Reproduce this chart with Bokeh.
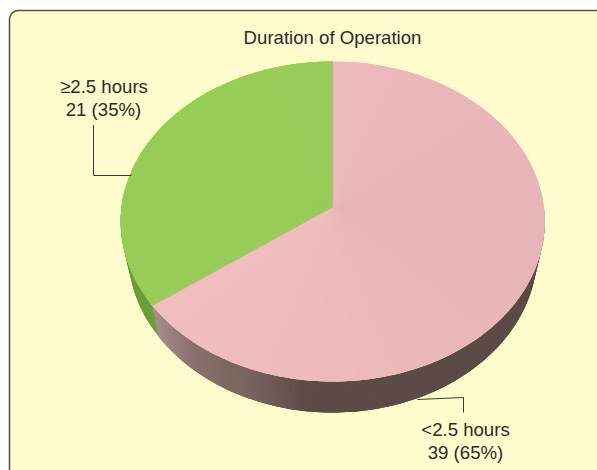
import numpy as np
from bokeh.plotting import figure
from bokeh.models import Range1d, Label
from bokeh.embed import file_html
from bokeh.resources import INLINE

categories = ["<2.5 hours", "\u22652.5 hours"]
counts = [39, 21]
percents = ["65%", "35%"]
title_text = "Duration of Operation"

# view geometry (picture pixels)
W, H = 597, 470
CX, CY, RX, RY = 332.2, 221.0, 212.0, 160.0
APEX = 14.0 / 160.0      # perspective shift of the pie centre
DEPTH = 31.0 / 160.0
SHRINK = 205.0 / 212.5
BG = "#fffbcc"
INK = "#2b2b2b"
EDGE = "#575351"


def dx(px):
    return (np.asarray(px, float) - CX) / RX


def dy(py):
    return (CY - np.asarray(py, float)) / RY


def project(theta):
    """Pie angle (clockwise from top) to a point on the tilted disc."""
    sx, cy = np.sin(theta), np.cos(theta)
    den = 1 + APEX * cy
    return sx * np.sqrt(1 - APEX ** 2) / den, (cy + APEX) / den


def mix(stops, t):
    xs = [s[0] for s in stops]
    rgb = [np.interp(t, xs, [s[1][i] for s in stops]) for i in range(3)]
    return "#%02x%02x%02x" % tuple(int(round(c)) for c in rgb)


p = figure(width=W, height=H, output_backend="svg", toolbar_location=None,
           x_range=Range1d(float(dx(0)), float(dx(W))),
           y_range=Range1d(float(dy(H)), float(dy(0))),
           min_border=0, outline_line_color=None, background_fill_color=BG,
           border_fill_color=BG, x_axis_type=None, y_axis_type=None)
p.grid.visible = False

# white page corner and frame
r = 9
arc = np.linspace(np.pi, np.pi / 2, 12)
fx = np.r_[9.0, 9 + r + r * np.cos(arc), float(W)]
fy = np.r_[float(H), 10 + r - r * np.sin(arc), 10.0]
p.patch(np.r_[dx(fx), dx(W), dx(0), dx(0)], np.r_[dy(fy), dy(0), dy(0), dy(H)],
        fill_color="#ffffff", line_color=None)
p.line(dx(fx), dy(fy), line_color=EDGE, line_width=1.6)

total = sum(counts)
sweep_pink = 2 * np.pi * counts[0] / total

SIDE_PINK = [(152, (168, 140, 140)), (190, (140, 112, 112)), (225, (124, 104, 96)),
             (250, (120, 98, 96)), (305, (93, 75, 71)), (560, (92, 74, 70))]
SIDE_GREEN = [(120, (104, 156, 58)), (160, (106, 160, 60))]
TOP_PINK = [(150, (240, 190, 190)), (340, (236, 186, 186)), (545, (231, 181, 183))]
TOP_GREEN = [(120, (152, 204, 88)), (330, (153, 204, 90))]


def wall(t0, t1, n, stops):
    edges = np.linspace(t0, t1, n + 1)
    for i in range(n):
        th = edges[i:min(i + 4, n + 1)]
        xa, ya = project(th)
        xs = np.r_[xa, xa[::-1] * SHRINK]
        ys = np.r_[ya, ya[::-1] - DEPTH]
        mid = project(np.array([(edges[i] + edges[i + 1]) / 2]))[0][0]
        c = mix(stops, CX + RX * mid)
        p.patch(xs, ys, fill_color=c, line_color=None)


def top(t0, t1, n, stops):
    edges = np.linspace(t0, t1, n + 1)
    for i in range(n):
        th = np.linspace(edges[i], edges[min(i + 3, n)], 10)
        xa, ya = project(th)
        xs = np.r_[0.0, xa]
        ys = np.r_[APEX, ya]
        mid = project(np.array([(edges[i] + edges[i + 1]) / 2]))[0][0]
        c = mix(stops, CX + RX * mid)
        p.patch(xs, ys, fill_color=c, line_color=None)


wall(np.pi / 2, sweep_pink, 110, SIDE_PINK)
wall(sweep_pink, 1.5 * np.pi + 0.1, 24, SIDE_GREEN)
top(0, sweep_pink, 70, TOP_PINK)
top(sweep_pink, 2 * np.pi, 30, TOP_GREEN)

# leaders
p.line(dx([93, 93, 131]), dy([124.5, 175, 175]), line_color="#3a3a3a", line_width=1)
p.line(dx([417, 463, 463]), dy([399, 397, 412]), line_color="#3a3a3a", line_width=1)


def text(s, px, py):
    p.add_layout(Label(x=float(dx(px)), y=float(dy(py)), text=s, text_font="Liberation Sans",
                       text_font_size="18.6px", text_color=INK, text_align="center",
                       text_baseline="middle"))


text(title_text, 332, 37)
text(categories[1], 103.5, 86)
text(f"{counts[1]} ({percents[1]})", 103, 109)
text(categories[0], 465, 429)
text(f"{counts[0]} ({percents[0]})", 465, 452)

open("out.html", "w").write(file_html(p, INLINE))
